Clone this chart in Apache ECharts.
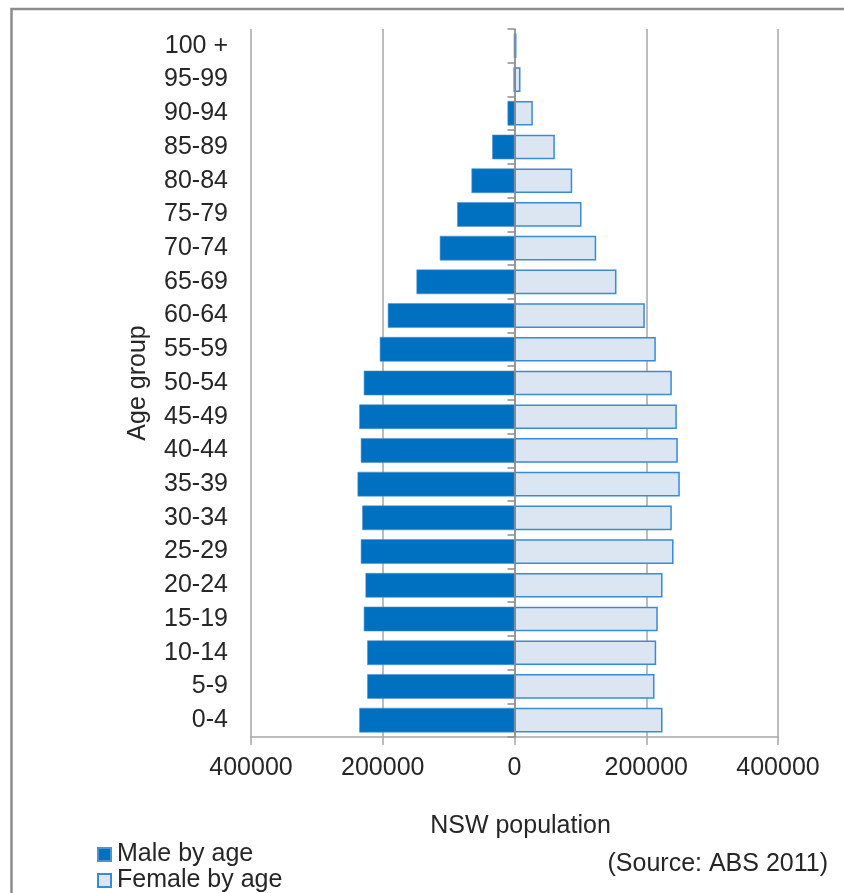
<!DOCTYPE html>
<html>
<head>
<meta charset="utf-8">
<title>NSW population by age group</title>
<script src="https://cdn.jsdelivr.net/npm/echarts@6/dist/echarts.min.js"></script>
<style>
  html, body { margin: 0; padding: 0; background: #ffffff; }
  #chart { width: 844px; height: 893px; }
</style>
</head>
<body>
<div id="chart"></div>
<script>
// Age groups, youngest at the bottom
const ageGroups = ['0-4', '5-9', '10-14', '15-19', '20-24', '25-29', '30-34', '35-39', '40-44', '45-49',
  '50-54', '55-59', '60-64', '65-69', '70-74', '75-79', '80-84', '85-89', '90-94', '95-99', '100 +'];

// Persons per age group, NSW, ABS 2011
const maleByAge = [235700, 223600, 223600, 228800, 226200, 233300, 231200, 238300, 233300, 235700,
  228800, 204500, 192300, 148800, 113400, 87000, 65300, 33900, 10600, 1500, 800];
const femaleByAge = [224700, 212500, 215100, 217500, 224700, 241400, 238800, 250900, 247900, 246400,
  238800, 214500, 197800, 154800, 124000, 101700, 87600, 61200, 27800, 9100, 3000];

// Population axis ticks (shown without sign on both sides)
const popMin = -400000;
const popMax = 400000;
const popStep = 200000;

const FONT = '"Liberation Sans", Arial, sans-serif';
const TEXT = '#262626';
const GRIDC = '#a6a6a6';

const legendText = { fontFamily: FONT, fontSize: 25, color: TEXT, padding: [0, 0, 0, 1] };

const chart = echarts.init(document.getElementById('chart'), null, { renderer: 'canvas' });

chart.setOption({
  animation: false,
  backgroundColor: '#ffffff',
  textStyle: { fontFamily: FONT, color: TEXT },
  grid: { left: 251, right: 66, top: 29, bottom: 156, containLabel: false },
  legend: [
    {
      left: 97, top: 842, padding: 0,
      itemWidth: 13, itemHeight: 13, icon: 'rect',
      textStyle: legendText,
      data: ['Male by age']
    },
    {
      left: 97, top: 868, padding: 0,
      itemWidth: 13, itemHeight: 13, icon: 'rect',
      textStyle: legendText,
      data: ['Female by age']
    }
  ],
  xAxis: {
    type: 'value',
    min: popMin,
    max: popMax,
    interval: popStep,
    name: 'NSW population',
    nameLocation: 'middle',
    nameGap: 77,
    nameTextStyle: { fontFamily: FONT, fontSize: 25, color: TEXT, padding: [0, 0, 0, 12] },
    axisLine: { show: true, onZero: false, lineStyle: { color: GRIDC, width: 1.5 } },
    axisTick: { show: true, length: 8, lineStyle: { color: GRIDC, width: 1.5 } },
    splitLine: { show: true, lineStyle: { color: GRIDC, width: 1.5 } },
    axisLabel: {
      fontFamily: FONT, fontSize: 25, color: TEXT, margin: 19,
      formatter: v => String(Math.abs(v))
    }
  },
  yAxis: [
    {
      // age group labels on the left edge
      type: 'category',
      position: 'left',
      data: ageGroups,
      name: 'Age group',
      nameLocation: 'middle',
      nameGap: 100,
      nameRotate: 90,
      nameTextStyle: { fontFamily: FONT, fontSize: 25, color: TEXT },
      axisLine: { show: false, onZero: false },
      axisTick: { show: false },
      axisLabel: { fontFamily: FONT, fontSize: 25, color: TEXT, margin: 23 }
    },
    {
      // zero line with small category ticks
      type: 'category',
      position: 'left',
      data: ageGroups,
      z: 10,
      axisLine: { show: true, onZero: true, onZeroAxisIndex: 0, lineStyle: { color: '#8c8c8c', width: 1.5 } },
      axisTick: { show: true, length: 7, lineStyle: { color: '#8c8c8c', width: 1.5 } },
      axisLabel: { show: false }
    }
  ],
  series: [
    {
      name: 'Male by age',
      type: 'bar',
      yAxisIndex: 0,
      barWidth: '73%',
      barGap: '-100%',
      data: maleByAge.map(v => -v),
      itemStyle: { color: '#0070c0', borderColor: '#4f92d0', borderWidth: 0.6 }
    },
    {
      name: 'Female by age',
      type: 'bar',
      yAxisIndex: 0,
      barWidth: '73%',
      barGap: '-100%',
      data: femaleByAge,
      itemStyle: { color: '#dce6f2', borderColor: '#3a8ad4', borderWidth: 1.5 }
    }
  ],
  graphic: [
    {
      type: 'rect',
      silent: true,
      shape: { x: 11.5, y: 9, width: 900, height: 900 },
      style: { fill: 'none', stroke: '#8c8c8c', lineWidth: 2.5 }
    },
    {
      type: 'text',
      silent: true,
      right: 16,
      top: 852,
      style: { text: '(Source: ABS 2011)', font: '25px ' + FONT, fill: TEXT }
    }
  ]
});
</script>
</body>
</html>
